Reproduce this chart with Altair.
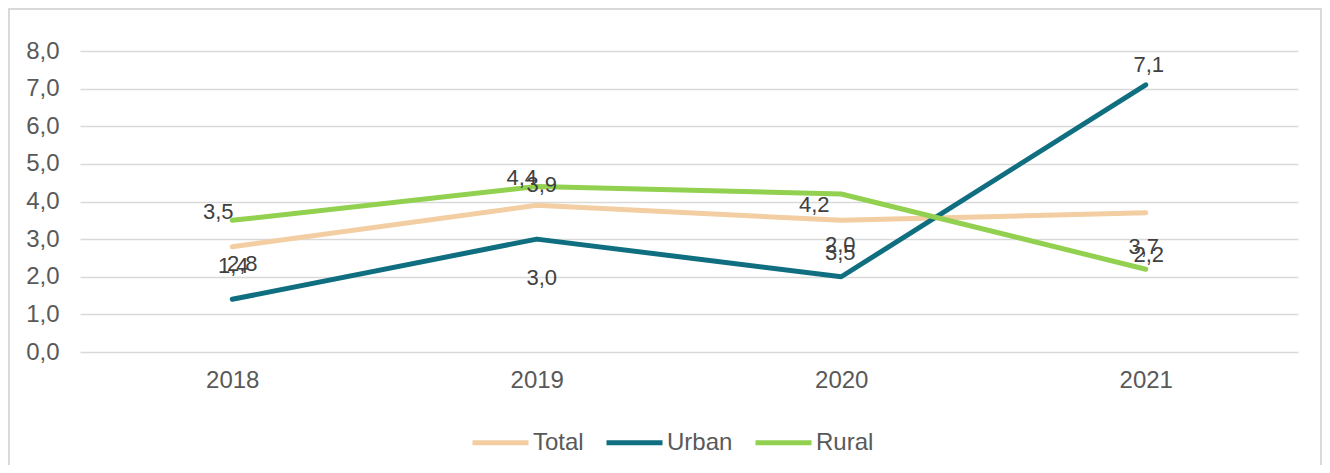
import altair as alt
import pandas as pd

years = ["2018", "2019", "2020", "2021"]
series_names = ["Total", "Urban", "Rural"]
total = [2.8, 3.9, 3.5, 3.7]
urban = [1.4, 3.0, 2.0, 7.1]
rural = [3.5, 4.4, 4.2, 2.2]
y_ticks = [0, 1, 2, 3, 4, 5, 6, 7, 8]

colors = {"Total": "#F2CEA2", "Urban": "#0F6E7F", "Rural": "#92D050"}

# label offsets (pixels) mimicking the reference placement
label_offsets = {
    "Total": [(10, 17), (5, -20), (-1, 33), (-2, 34)],
    "Urban": [(1, -33), (5, 39), (-1, -32), (3, -20)],
    "Rural": [(-14, -8), (-15, -8), (-27, 11), (3, -14)],
}

rows = []
for name, vals in zip(series_names, [total, urban, rural]):
    for yr, v in zip(years, vals):
        rows.append({"year": yr, "series": name, "value": v,
                     "label": f"{v:.1f}".replace(".", ",")})
df = pd.DataFrame(rows)

FONT = "Liberation Sans"
TXT = "#595959"
W, H = 1218, 301

x_scale = alt.Scale(type="point", padding=0.5, domain=years)
y_scale = alt.Scale(domain=[0, 8], nice=False, zero=True)

x_enc = alt.X("year:O", scale=x_scale,
              axis=alt.Axis(title=None, labelAngle=0, domain=False, ticks=False,
                            grid=False, labelPadding=16, labelFontSize=24,
                            labelColor=TXT, labelFont=FONT))
y_enc = alt.Y("value:Q", scale=y_scale,
              axis=alt.Axis(title=None, values=y_ticks, labelOverlap=False,
                            labelExpr="replace(format(datum.value, '.1f'), '.', ',')",
                            domain=False, ticks=False, gridColor="#D9D9D9",
                            gridWidth=1.5, labelPadding=21, labelFontSize=24,
                            labelColor=TXT, labelFont=FONT))

lines = alt.Chart(df).mark_line(strokeWidth=5, strokeCap="round", strokeJoin="round").encode(
    x=x_enc,
    y=y_enc,
    color=alt.Color("series:N",
                    scale=alt.Scale(domain=series_names,
                                    range=[colors[s] for s in series_names]),
                    legend=alt.Legend(title=None, orient="none", direction="horizontal",
                                      legendX=390, legendY=361, symbolType="stroke",
                                      symbolSize=3136, symbolStrokeWidth=5,
                                      labelFontSize=24, labelFont=FONT, labelColor=TXT,
                                      labelOffset=2, columnPadding=12, padding=0)),
)

text_layers = []
for name in series_names:
    for yr, (dx, dy) in zip(years, label_offsets[name]):
        t = alt.Chart(df).transform_filter(
            (alt.datum.series == name) & (alt.datum.year == yr)
        ).mark_text(dx=dx, dy=dy, fontSize=22, font=FONT, color="#404040",
                    baseline="middle", align="center").encode(
            x=x_enc, y=y_enc, text="label:N")
        text_layers.append(t)

border_left = alt.Chart(df).mark_rule(color="#D9D9D9", strokeWidth=1.5).encode(
    x=alt.value(-71.25), y=alt.value(-42.25), y2=alt.value(414))
border_top = alt.Chart(df).mark_rule(color="#D9D9D9", strokeWidth=1.5).encode(
    x=alt.value(-71.25), x2=alt.value(1241.25), y=alt.value(-42.25))
border_right = alt.Chart(df).mark_rule(color="#D9D9D9", strokeWidth=1.5).encode(
    x=alt.value(1241.25), y=alt.value(-42.25), y2=alt.value(414))

chart = alt.layer(lines, *text_layers, border_left, border_top, border_right).properties(
    width=W, height=H,
    autosize=alt.AutoSizeParams(type="none"),
    padding={"left": 72, "top": 43, "right": 24, "bottom": 113},
    background="white",
).configure_view(stroke=None)

chart.save("out.html", embed_options={"renderer": "svg", "actions": False})
